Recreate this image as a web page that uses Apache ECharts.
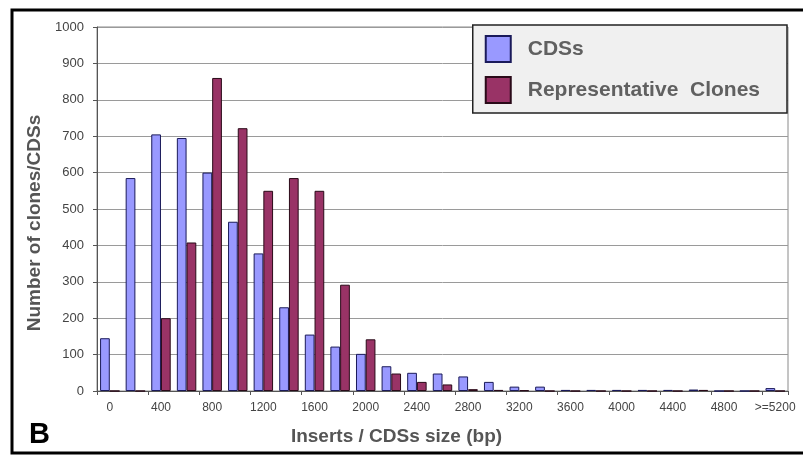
<!DOCTYPE html>
<html><head><meta charset="utf-8">
<script src="https://cdn.jsdelivr.net/npm/echarts@6/dist/echarts.min.js"></script>
<style>html,body{margin:0;padding:0;background:#fff}#c{width:803px;height:457px}</style>
</head><body><div id="c"></div>
<script>
var categories = ['0','200','400','600','800','1000','1200','1400','1600','1800','2000','2200','2400','2600','2800','3000','3200','3400','3600','3800','4000','4200','4400','4600','4800','5000','>=5200'];
var cdsValues = [145,585,705,695,600,465,378,230,155,122,102,68,50,48,40,25,12,12,3,3,3,3,3,4,0,0,8];
var cloneValues = [0,0,200,408,860,722,550,585,550,292,142,48,25,18,5,3,2,0,0,0,0,0,0,3,0,0,0];
var yTicks = [0,100,200,300,400,500,600,700,800,900,1000];

var FONT = 'Arial, "Liberation Sans", sans-serif';
var chart = echarts.init(document.getElementById('c'));
chart.setOption({
  animation: false,
  backgroundColor: '#fff',
  grid: {left: 97, right: 15, top: 27, bottom: 66, show: true, borderColor: '#8a8a8a', borderWidth: 1, backgroundColor: '#fff'},
  graphic: [
    {type: 'rect', shape: {x: 12, y: 10, width: 800, height: 443}, style: {fill: 'none', stroke: '#000', lineWidth: 3}, z: 100},
    {type: 'text', left: 29, top: 420, style: {text: 'B', font: 'bold 29px ' + FONT, fill: '#000'}}
  ],
  legend: {
    orient: 'vertical', right: 16, top: 25, padding: [10, 27, 9, 12],
    backgroundColor: '#f0f0f0', borderColor: '#222', borderWidth: 1.5,
    itemWidth: 25, itemHeight: 26, itemGap: 13, icon: 'rect',
    textStyle: {fontSize: 21, color: '#606060', fontWeight: 'bold', fontFamily: FONT, padding: [0, 0, 0, 12]},
    data: ['CDSs', 'Representative  Clones']
  },
  xAxis: {
    type: 'category', data: categories,
    name: 'Inserts / CDSs size (bp)', nameLocation: 'middle', nameGap: 36,
    nameTextStyle: {fontSize: 19, fontWeight: 'bold', color: '#555', fontFamily: FONT, padding: [0, 92, 0, 0]},
    axisLine: {lineStyle: {color: '#555', width: 1}},
    axisTick: {show: true, alignWithLabel: false, length: 4, lineStyle: {color: '#555'}},
    axisLabel: {interval: 1, fontSize: 12, color: '#444', margin: 11, fontFamily: FONT}
  },
  yAxis: {
    type: 'value', min: 0, max: 1000, interval: 100,
    name: 'Number of clones/CDSs', nameLocation: 'middle', nameGap: 52,
    nameTextStyle: {fontSize: 19, fontWeight: 'bold', color: '#555', fontFamily: FONT, padding: [0, 28, 0, 0]},
    axisLine: {show: true, lineStyle: {color: '#555'}},
    axisTick: {show: true, length: 4, lineStyle: {color: '#555'}},
    axisLabel: {fontSize: 13, color: '#444', margin: 13, fontFamily: FONT,
      formatter: function(v){ return yTicks.indexOf(v) >= 0 ? String(v) : ''; }},
    splitLine: {show: true, lineStyle: {color: '#9a9a9a', width: 1}}
  },
  series: [
    {name: 'CDSs', type: 'bar', data: cdsValues, barGap: '0%', barCategoryGap: '24%',
     itemStyle: {color: '#9999ff', borderColor: '#1a1a5a', borderWidth: 1}},
    {name: 'Representative  Clones', type: 'bar', data: cloneValues,
     itemStyle: {color: '#993366', borderColor: '#2a0a18', borderWidth: 1}}
  ]
});
</script></body></html>
